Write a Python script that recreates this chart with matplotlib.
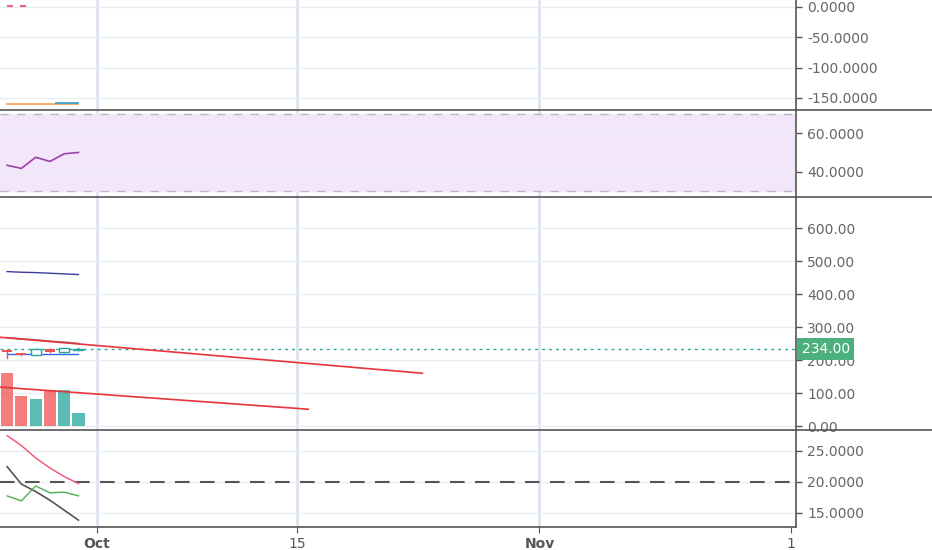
import numpy as np
import matplotlib
matplotlib.use("Agg")
import matplotlib.pyplot as plt
from matplotlib.lines import Line2D
from matplotlib.ticker import FormatStrFormatter

# days counted from Oct 1
days = [-6.3, -5.3, -4.3, -3.3, -2.3, -1.3]

# candles
opens = [230, 221, 215, 233, 224, 230]
closes = [223, 215, 232, 225, 236, 234]
highs = [231, 222, 233, 234, 237, 235]
lows = [206, 214, 214, 224, 223, 229]
volumes = [160, 91, 82, 109, 109, 39]
last_price = 234

# overlay lines on the price pane
upper_band = [468, 466, 465, 463, 461, 459]
lower_line = [218, 218, 218, 218, 218, 218]
dark_line = [268, 264, 261, 257, 254, 250]
trend1_x, trend1_y = [-6.8, 22.8], [269, 160]
trend2_x, trend2_y = [-6.8, 14.8], [118, 51]

# top pane
top_orange = [-160, -160, -160, -160, -160, -160]
top_blue_x, top_blue_y = [-2.9, -1.3], [-158, -158]
top_dots_x, top_dots_y = [-6.1, -5.2], [0.8, 0.8]

# rsi-like pane
rsi = [43.3, 41.7, 47.5, 45.3, 49.3, 50.0]

# bottom pane (adx-like)
red_line = [27.4, 25.8, 23.8, 22.2, 20.8, 19.7]
gray_line = [22.4, 19.6, 18.4, 17.0, 15.4, 13.8]
green_line = [17.7, 16.9, 19.3, 18.2, 18.3, 17.7]

xticks = [0, 14, 31, 48.6]
xlabels = ["Oct", "15", "Nov", "1"]

W, H = 932, 550
fig = plt.figure(figsize=(W / 100, H / 100), dpi=100)
fig.patch.set_facecolor("white")

right = 796 / W
def pane(top, bottom):
    return fig.add_axes([0, 1 - bottom / H, right, (bottom - top) / H])

ax1 = pane(0, 110)
ax2 = pane(110, 197)
ax3 = pane(197, 430)
ax4 = pane(430, 527)
axes = [ax1, ax2, ax3, ax4]

grid_c = "#e9ecf0"
vgrid_c = "#dce4ee"
for ax in axes:
    ax.set_xlim(-6.8, 48.98)
    ax.set_facecolor("white")
    for s in ["left", "top", "bottom"]:
        ax.spines[s].set_visible(False)
    ax.spines["right"].set_color("#555555")
    ax.spines["right"].set_linewidth(1.2)
    ax.yaxis.tick_right()
    ax.tick_params(axis="y", colors="#555555", labelcolor="#666666", labelsize=10,
                   length=4, width=1, pad=4)
    ax.set_xticks(xticks)
    ax.tick_params(axis="x", length=0, labelbottom=False)
    ax.grid(axis="y", color=grid_c, lw=1)
    for xt in xticks[:3]:
        ax.axvline(xt, color=vgrid_c, lw=2, zorder=0)
    ax.set_axisbelow(True)

# pane 1
ax1.set_ylim(-169.8, 11.5)
ax1.set_yticks([0, -50, -100, -150])
ax1.yaxis.set_major_formatter(FormatStrFormatter("%.4f"))
ax1.plot(days, top_orange, color="#f5a04a", lw=1.2)
ax1.plot(top_blue_x, top_blue_y, color="#2a9fd0", lw=1.2)
ax1.plot(top_dots_x, top_dots_y, ls="none", marker="_", ms=4, mew=1.5, color="#f06080")

# pane 2
ax2.set_ylim(26.8, 72.1)
ax2.set_yticks([60, 40])
ax2.yaxis.set_major_formatter(FormatStrFormatter("%.4f"))
ax2.axhspan(30, 70, color="#f3e6fb", zorder=0)
for lvl in [30, 70]:
    ax2.axhline(lvl, color="#b8b8c0", lw=1, ls=(0, (6, 6)))
ax2.plot(days, rsi, color="#9c3fa8", lw=1.2)

# pane 3
ax3.set_ylim(-12, 694)
ax3.set_yticks([0, 100, 200, 300, 400, 500, 600])
ax3.yaxis.set_major_formatter(FormatStrFormatter("%.2f"))
red_c, green_c = "#ef5350", "#26a69a"
vol_cols = [red_c if c < o else green_c for o, c in zip(opens, closes)]
ax3.bar(days, volumes, width=0.85, color=vol_cols, alpha=0.75, zorder=2)
ax3.plot(trend1_x, trend1_y, color="#e8343a", lw=1.2, zorder=4)
ax3.plot(trend2_x, trend2_y, color="#e8343a", lw=1.2, zorder=4)
ax3.plot(days, dark_line, color="#553333", lw=1.2, alpha=0.7, zorder=3)
ax3.plot(days, upper_band, color="#3b3b9b", lw=1, zorder=3)
ax3.plot(days, lower_line, color="#2962ff", lw=1, zorder=3)
ax3.axhline(last_price, color="#26a69a", lw=1, ls=(0, (2, 3)), zorder=3)
for d, o, c, hi, lo, col in zip(days, opens, closes, highs, lows, vol_cols):
    ax3.plot([d, d], [lo, hi], color=col, lw=1, zorder=5)
    if c >= o:
        ax3.bar(d, c - o, bottom=o, width=0.7, facecolor="white", edgecolor=col, lw=1, zorder=6)
    else:
        ax3.bar(d, o - c, bottom=c, width=0.7, color=col, zorder=6)
ax3.annotate(f"{last_price:.2f}", xy=(1, last_price),
             xycoords=ax3.get_yaxis_transform(), xytext=(4, 0),
             textcoords="offset points", va="center", ha="left",
             color="white", fontsize=10,
             bbox=dict(boxstyle="square,pad=0.3", fc="#4cb07d", ec="none"),
             annotation_clip=False, zorder=10)

# pane 4
ax4.set_ylim(12.7, 28.3)
ax4.set_yticks([25, 20, 15])
ax4.yaxis.set_major_formatter(FormatStrFormatter("%.4f"))
ax4.axhline(20, color="#555555", lw=1.5, ls=(0, (7, 5)))
ax4.plot(days, red_line, color="#f0506a", lw=1)
ax4.plot(days, gray_line, color="#555555", lw=1.2)
ax4.plot(days, green_line, color="#4caf50", lw=1)
ax4.spines["bottom"].set_visible(True)
ax4.spines["bottom"].set_color("#555555")
ax4.spines["bottom"].set_linewidth(1.2)
ax4.tick_params(axis="x", length=4, color="#555555", labelbottom=True,
                labelcolor="#555555", labelsize=10, pad=3)
ax4.set_xticklabels(xlabels)
for lab in ax4.get_xticklabels():
    if lab.get_text() in ("Oct", "Nov"):
        lab.set_fontweight("bold")

# pane separators across the full width
for yp in [110, 197, 430]:
    fig.add_artist(Line2D([0, 1], [1 - yp / H] * 2, transform=fig.transFigure,
                          color="#555555", lw=1.2))

fig.savefig("out.png", dpi=100)
